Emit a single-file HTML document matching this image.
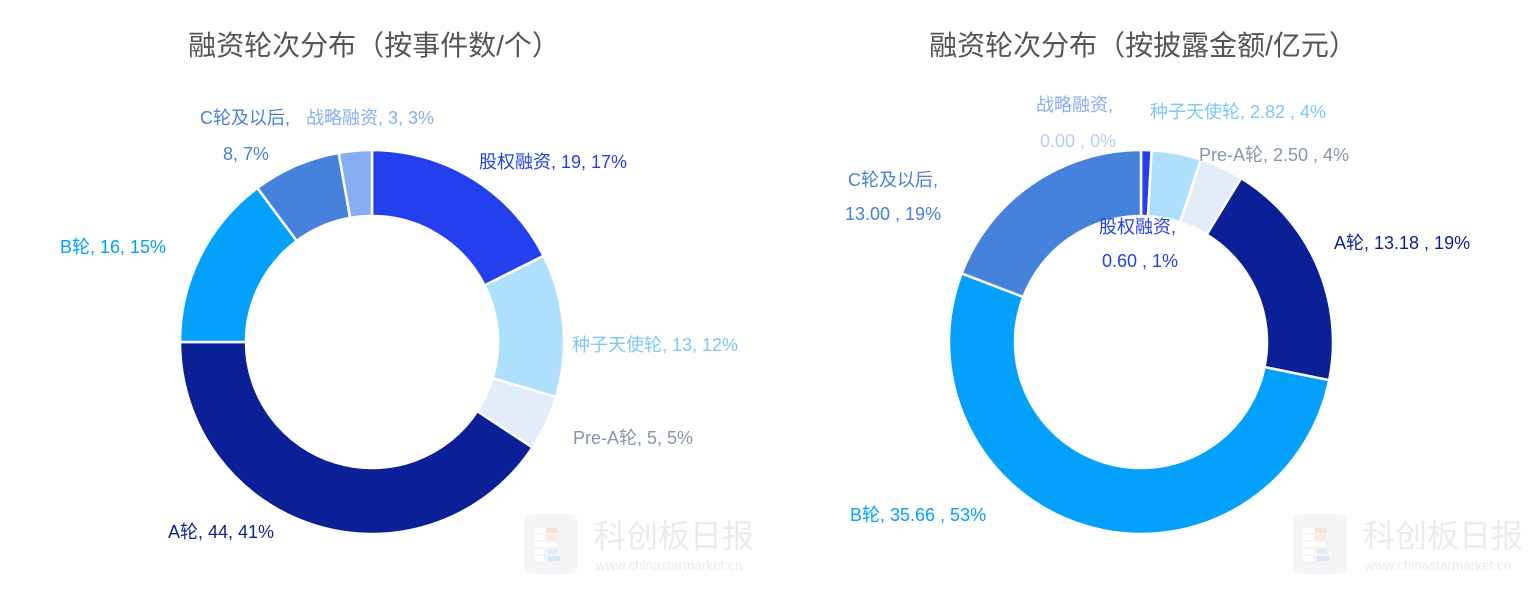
<!DOCTYPE html>
<html><head><meta charset="utf-8">
<style>
body{margin:0;width:1538px;height:586px;background:#fff;overflow:hidden;font-family:"Liberation Sans","Noto Sans CJK SC",sans-serif;}
svg text{font-family:"Liberation Sans","Noto Sans CJK SC",sans-serif;}
</style></head><body>
<svg id="chart" width="1538" height="586">
<g opacity="0.55">
 <rect x="524" y="514" width="54" height="60" rx="8" fill="#eceef1"/>
 <rect x="534" y="528" width="12" height="5" fill="#fff"/><rect x="546" y="528" width="12" height="5" fill="#f7c9b8"/>
 <rect x="534" y="535" width="10" height="5" fill="#fff"/><rect x="546" y="535" width="10" height="5" fill="#f7dcae"/>
 <rect x="534" y="542" width="22" height="5" fill="#fff"/>
 <rect x="534" y="549" width="10" height="5" fill="#fff"/><rect x="548" y="549" width="10" height="5" fill="#bfe0f2"/>
 <rect x="534" y="556" width="10" height="5" fill="#fff"/><rect x="548" y="556" width="12" height="5" fill="#bcd3f0"/>
 <text x="594" y="547" font-size="32" fill="#dcdcdc">科创板日报</text>
 <text x="596" y="570" font-size="13.5" fill="#dcdcdc">www.chinastarmarket.cn</text>
</g>
<g opacity="0.55" transform="translate(769,0)">
 <rect x="524" y="514" width="54" height="60" rx="8" fill="#eceef1"/>
 <rect x="534" y="528" width="12" height="5" fill="#fff"/><rect x="546" y="528" width="12" height="5" fill="#f7c9b8"/>
 <rect x="534" y="535" width="10" height="5" fill="#fff"/><rect x="546" y="535" width="10" height="5" fill="#f7dcae"/>
 <rect x="534" y="542" width="22" height="5" fill="#fff"/>
 <rect x="534" y="549" width="10" height="5" fill="#fff"/><rect x="548" y="549" width="10" height="5" fill="#bfe0f2"/>
 <rect x="534" y="556" width="10" height="5" fill="#fff"/><rect x="548" y="556" width="12" height="5" fill="#bcd3f0"/>
 <text x="594" y="547" font-size="32" fill="#dcdcdc">科创板日报</text>
 <text x="596" y="570" font-size="13.5" fill="#dcdcdc">www.chinastarmarket.cn</text>
</g>
<text x="374" y="55" text-anchor="middle" font-size="28" fill="#555">融资轮次分布（按事件数/个）</text>
<text x="1143" y="55" text-anchor="middle" font-size="28" fill="#555">融资轮次分布（按披露金额/亿元）</text>
<g id="left"></g><g id="right"></g>
<g font-size="18">
 <text x="479" y="168" fill="#2440ee">股权融资, 19, 17%</text>
 <text x="572" y="351" fill="#7cc8f8">种子天使轮, 13, 12%</text>
 <text x="573" y="444" fill="#8596ad">Pre-A轮, 5, 5%</text>
 <text x="168" y="538" fill="#0b1f96">A轮, 44, 41%</text>
 <text x="60" y="253" fill="#03a0fc">B轮, 16, 15%</text>
 <text x="200" y="124" fill="#4682dc">C轮及以后,</text>
 <text x="223" y="160" fill="#4682dc">8, 7%</text>
 <text x="306" y="124" fill="#86aef2">战略融资, 3, 3%</text>
 <text x="1036" y="111" fill="#86aef2">战略融资,</text>
 <text x="1040" y="147" fill="#b7cef4">0.00 , 0%</text>
 <text x="1150" y="118" fill="#7cc8f8">种子天使轮, 2.82 , 4%</text>
 <text x="1199" y="161" fill="#8596ad">Pre-A轮, 2.50 , 4%</text>
 <text x="1334" y="249" fill="#0b1f96">A轮, 13.18 , 19%</text>
 <text x="850" y="521" fill="#03a0fc">B轮, 35.66 , 53%</text>
 <text x="848" y="186" fill="#4682dc">C轮及以后,</text>
 <text x="845" y="220" fill="#4682dc">13.00 , 19%</text>
 <text x="1099" y="233" fill="#2440ee">股权融资,</text>
 <text x="1102" y="267" fill="#2440ee">0.60 , 1%</text>
</g>
</svg>
<script>
const categories=["股权融资","种子天使轮","Pre-A轮","A轮","B轮","C轮及以后","战略融资"];
const leftValues=[19,13,5,44,16,8,3];
const rightValues=[0.60,2.82,2.50,13.18,35.66,13.00,0.00];
const colors=["#2440ee","#aee0fd","#e3edfa","#0b1f96","#03a0fc","#4682dc","#86aef2"];
const NS="http://www.w3.org/2000/svg";
function donut(gid,vals,cx,cy,R,r,prefix){
 const g=document.getElementById(gid);
 const tot=vals.reduce((a,b)=>a+b,0);
 let a0=-Math.PI/2;
 vals.forEach((v,i)=>{
  const a1=a0+v/tot*2*Math.PI;
  if(v>0){
   const lg=(a1-a0)>Math.PI?1:0;
   const p=(a,rr)=>[cx+rr*Math.cos(a),cy+rr*Math.sin(a)];
   const [x1,y1]=p(a0,R),[x2,y2]=p(a1,R),[x3,y3]=p(a1,r),[x4,y4]=p(a0,r);
   const path=document.createElementNS(NS,"path");
   path.setAttribute("d",`M${x1},${y1}A${R},${R} 0 ${lg} 1 ${x2},${y2}L${x3},${y3}A${r},${r} 0 ${lg} 0 ${x4},${y4}Z`);
   path.setAttribute("fill",colors[i]);
   path.setAttribute("stroke","#fff");
   path.setAttribute("stroke-width","2.5");
   
   
   g.appendChild(path);
  }
  a0=a1;
 });
}
donut("left",leftValues,372,342,192,126,"left");
donut("right",rightValues,1141,342,192,126,"right");
</script>
</body></html>
